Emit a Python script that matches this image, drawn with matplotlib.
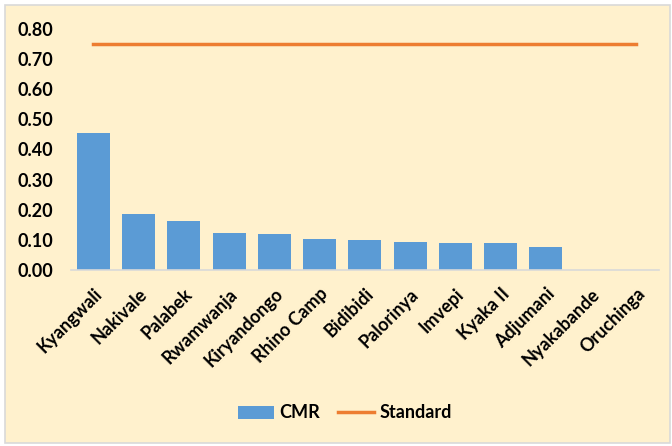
import matplotlib
matplotlib.use("Agg")
import matplotlib.pyplot as plt
from matplotlib.patches import Rectangle

categories = ["Kyangwali", "Nakivale", "Palabek", "Rwamwanja", "Kiryandongo", "Rhino Camp",
              "Bidibidi", "Palorinya", "Imvepi", "Kyaka II", "Adjumani", "Nyakabande", "Oruchinga"]
cmr = [0.455, 0.186, 0.163, 0.123, 0.120, 0.104, 0.098, 0.094, 0.091, 0.091, 0.075, 0.0, 0.0]
standard = [0.75] * len(categories)
yticks = [0.0, 0.1, 0.2, 0.3, 0.4, 0.5, 0.6, 0.7, 0.8]

bg = "#FFF1CD"
plt.rcParams['font.family'] = ['Lato', 'DejaVu Sans']

fig = plt.figure(figsize=(6.72, 4.46), dpi=100)
fig.patch.set_facecolor("white")
fig.patches.append(Rectangle((5/672, 3/446), 665/672, 438/446, transform=fig.transFigure,
                             facecolor=bg, edgecolor="#D9D9D9", linewidth=1.2, zorder=-5))

ax = fig.add_axes([70.7/672, 1-270/446, 588.3/672, 241/446])
ax.set_zorder(2)
ax.patch.set_alpha(0)
x = range(len(categories))
bars = ax.bar(x, cmr, width=0.73, color="#5B9BD5", label="CMR", zorder=2)
line, = ax.plot(x, standard, color="#ED7D31", linewidth=2.5, label="Standard", zorder=3)

ax.set_xlim(-0.5, len(categories) - 0.5)
ax.set_ylim(0, 0.8)
ax.set_yticks(yticks)
ax.set_yticklabels([f"{v:.2f}" for v in yticks], fontsize=13, fontweight="bold")
ax.set_xticks(list(x))
ax.set_xticklabels(categories, rotation=45, ha="right", rotation_mode="anchor",
                   fontsize=13, fontweight="bold")
for s in ["top", "right", "left"]:
    ax.spines[s].set_visible(False)
ax.spines["bottom"].set_color("#D9D9D9")
ax.spines["bottom"].set_linewidth(1.2)
ax.tick_params(axis="both", length=0)
ax.tick_params(axis="y", pad=12.5)
ax.tick_params(axis="x", pad=11)

leg = fig.legend([bars, line], ["CMR", "Standard"], loc="center",
                 bbox_to_anchor=(345/672, 1-413/446), ncol=2, frameon=False,
                 prop={"size": 13, "weight": "bold"}, handlelength=2.0, columnspacing=1.0,
                 handletextpad=0.3)
leg.set_zorder(3)

fig.savefig("out.png", dpi=100, facecolor="white")
